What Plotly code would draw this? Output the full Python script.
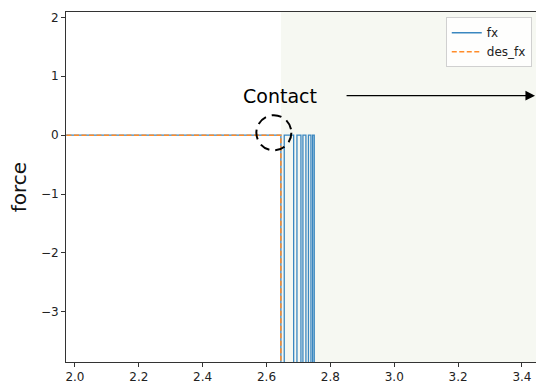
import plotly.graph_objects as go

# Measured contact force and commanded force over time
fx_time = [1.95, 2.645, 2.645, 2.6555, 2.6555, 2.685, 2.685, 2.6953, 2.6953,
           2.7078, 2.7078, 2.714, 2.714, 2.7234, 2.7234, 2.7313, 2.7313,
           2.7391, 2.7391, 2.7444, 2.7444, 2.7495, 2.7495]
fx_value = [0, 0, -12, -12, 0, 0, -12, -12, 0,
            0, -12, -12, 0, 0, -12, -12, 0,
            0, -12, -12, 0, 0, -12]

des_time = [1.95, 2.645, 2.645, 3.6]
des_value = [0, 0, -12, -12]

contact_time = 2.645
x_ticks = [2.0, 2.2, 2.4, 2.6, 2.8, 3.0, 3.2, 3.4]
y_ticks = [-3, -2, -1, 0, 1, 2]

x_range = [1.972, 3.444]
y_range = [-3.85, 2.09]

fig = go.Figure()
fig.add_trace(go.Scatter(x=fx_time, y=fx_value, mode="lines", name="fx",
                         line=dict(color="#3a87c0", width=1.3)))
fig.add_trace(go.Scatter(x=des_time, y=des_value, mode="lines", name="des_fx",
                         line=dict(color="#ff8c2a", width=1.5, dash="5px,2.5px")))

# Region after contact
fig.add_shape(type="rect", xref="x", yref="paper", x0=contact_time, x1=3.7,
              y0=0, y1=1, fillcolor="#f6f8f2", line=dict(width=0), layer="below")

# Dashed circle around the contact point
cx, cy, rx, ry = 2.623, 0.04, 0.0548, 0.299
fig.add_shape(type="circle", xref="x", yref="y", x0=cx - rx, x1=cx + rx,
              y0=cy - ry, y1=cy + ry,
              line=dict(color="black", width=2, dash="10px,6px"))

fig.add_annotation(x=2.642, y=0.67, xref="x", yref="y", text="Contact",
                   showarrow=False, font=dict(size=19, color="black",
                                              family="DejaVu Sans"))
fig.add_annotation(x=3.441, y=0.67, ax=2.846, ay=0.67, xref="x", yref="y",
                   axref="x", ayref="y", text="", showarrow=True,
                   arrowhead=2, arrowsize=1.6, arrowwidth=1.2,
                   arrowcolor="black", standoff=0)

fig.update_layout(
    width=536, height=385,
    margin=dict(l=66, r=0, t=12, b=23),
    paper_bgcolor="white", plot_bgcolor="white",
    font=dict(family="DejaVu Sans", color="#222"),
    showlegend=True,
    legend=dict(x=0.991, y=0.985, xanchor="right", yanchor="top",
                bgcolor="rgba(255,255,255,0.85)", bordercolor="#d0d0d0",
                borderwidth=1, font=dict(size=12, color="#222"),
                tracegroupgap=0, itemwidth=30),
)
fig.update_xaxes(range=x_range, tickvals=x_ticks, ticktext=[f"{v:.1f}" for v in x_ticks],
                 showgrid=False, zeroline=False, showline=True, mirror=True,
                 linecolor="#333", linewidth=1, ticks="outside", ticklen=4,
                 tickcolor="#333", tickfont=dict(size=12, color="#222"))
fig.update_yaxes(range=y_range, tickvals=y_ticks,
                 showgrid=False, zeroline=False, showline=True, mirror=False,
                 linecolor="#333", linewidth=1, ticks="outside", ticklen=4,
                 tickcolor="#333", tickfont=dict(size=12, color="#222"),
                 title=dict(text="force", font=dict(size=20, color="#111"), standoff=8))

fig.write_html("out.html")
